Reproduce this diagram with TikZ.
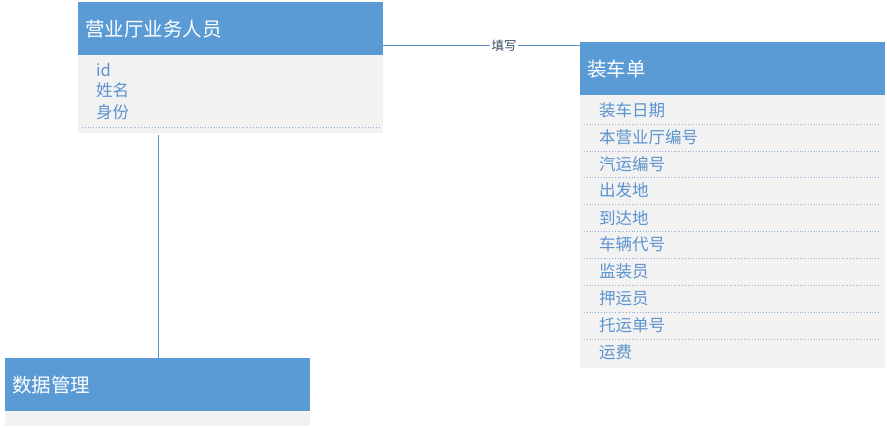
\documentclass[tikz,border=0pt]{standalone}
\usepackage{fontspec}
\setmainfont{Noto Sans CJK SC}
\begin{document}
\begin{tikzpicture}[x=1pt,y=-1pt,
  hdr/.style={fill=hblue,draw=none,anchor=north west,minimum width=305pt,minimum height=53pt,
    inner xsep=7pt,text width=291pt,align=left,text=white,font=\fontsize{19.5}{21}\selectfont},
  bodybox/.style={fill=bgray,draw=none,anchor=north west,minimum width=305pt,inner sep=0pt},
  item/.style={anchor=west,inner sep=0pt,text=tblue,font=\fontsize{16.5}{18}\selectfont},
  sep/.style={draw=sblue,dotted,line width=0.8pt},
  conn/.style={draw=lblue,line width=0.8pt},
  lbl/.style={fill=white,inner sep=1.5pt,text=dtext,font=\fontsize{12.5}{13}\selectfont}]
\definecolor{hblue}{HTML}{5B9BD5}
\definecolor{bgray}{HTML}{F2F2F2}
\definecolor{tblue}{HTML}{5B93CF}
\definecolor{sblue}{HTML}{8AAED6}
\definecolor{lblue}{HTML}{5B93CF}
\definecolor{dtext}{HTML}{3A4A60}
\useasboundingbox (0,0) rectangle (887,428);
\fill[white] (0,0) rectangle (887,428);
% box 1
\node[bodybox,minimum height=78pt] (b1) at (78,55) {};
\node[hdr] (h1) at (78,2) {营业厅业务人员};
\node[item] (a1) at (96,70) {id};
\node[item] (a2) at (96,90) {姓名};
\node[item] (a3) at (96,112) {身份};
\draw[sep] (82,127) -- (379,127);
% box 2
\node[bodybox,minimum height=273pt] (b2) at (580,95) {};
\node[hdr] (h2) at (580,42) {装车单};
\foreach \t [count=\i from 0] in {装车日期,本营业厅编号,汽运编号,出发地,到达地,车辆代号,监装员,押运员,托运单号,运费}{
  \node[item] (c\i) at (599,{110+26.9*\i}) {\t};
}
\foreach \i in {0,...,8}{
  \draw[sep] (584,{124+26.9*\i}) -- (880,{124+26.9*\i});
}
% box 3
\node[bodybox,minimum height=15pt] (b3) at (5,411) {};
\node[hdr] (h3) at (5,358) {数据管理};
% connectors
\coordinate (p1) at ([yshift=-17pt]h1.east);
\coordinate (p2) at (h2.west |- p1);
\draw[conn] (p1) -- node[lbl,pos=0.614] (l1) {填写} (p2);
\coordinate (q1) at (158,135);
\coordinate (q2) at (158,392);
\coordinate (q3) at (h3.east |- q2);
\draw[conn,line width=0.6pt] (q1) -- (q2) -- (q3);
\end{tikzpicture}
\end{document}
